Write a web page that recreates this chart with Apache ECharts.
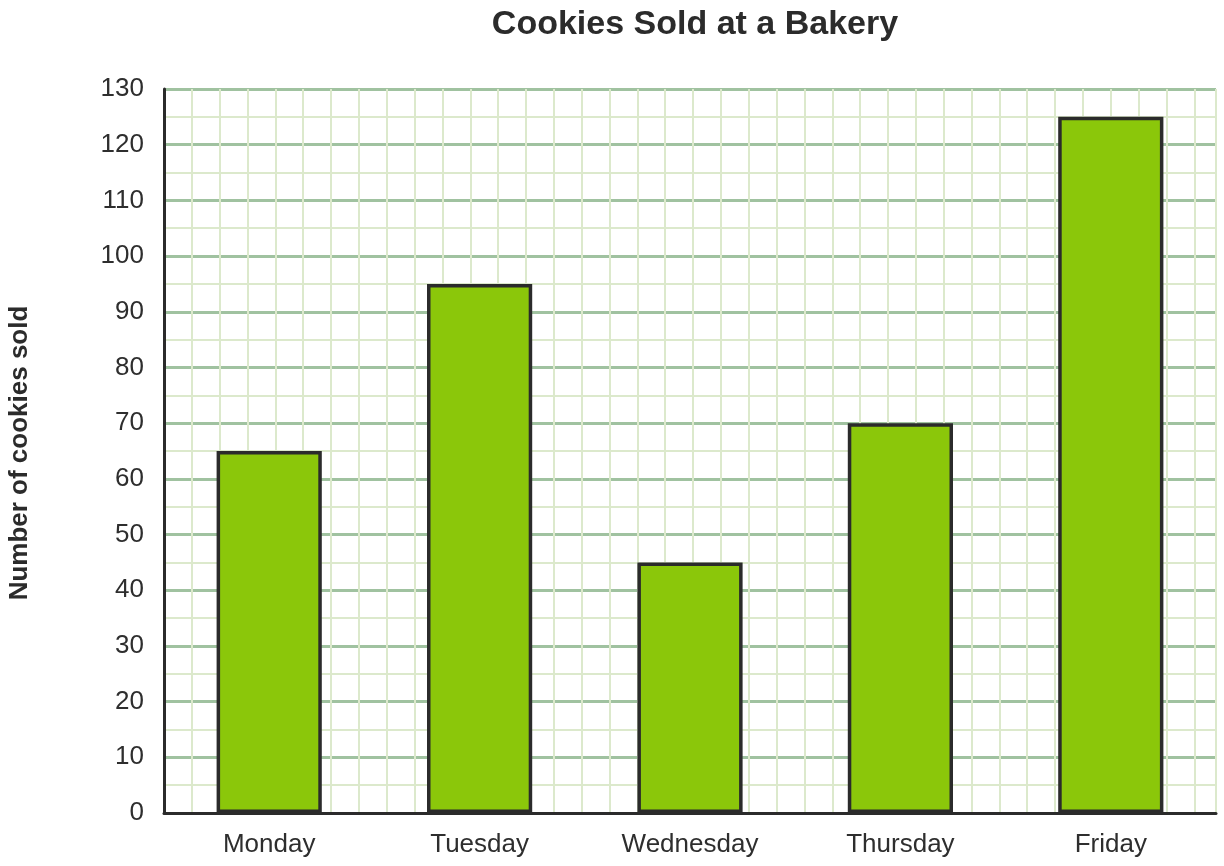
<!DOCTYPE html>
<html>
<head>
<meta charset="utf-8">
<script src="https://cdn.jsdelivr.net/npm/echarts@6/dist/echarts.min.js"></script>
<style>
  html, body { margin: 0; padding: 0; background: #ffffff; }
  #chart { width: 1224px; height: 866px; }
</style>
</head>
<body>
<div id="chart"></div>
<script>
// Cookies sold per weekday
const days = ['Monday', 'Tuesday', 'Wednesday', 'Thursday', 'Friday'];
const cookiesSold = [65, 95, 45, 70, 125];
const yTicks = [0, 10, 20, 30, 40, 50, 60, 70, 80, 90, 100, 110, 120, 130];

const chart = echarts.init(document.getElementById('chart'));

const gridLeft = 164, gridRight = 8, gridTop = 89, gridBottom = 53;
const plotW = 1224 - gridLeft - gridRight;
const plotH = 866 - gridTop - gridBottom;
const yMax = yTicks[yTicks.length - 1];
// square graph-paper cells: one cell is 5 units tall
const cellPx = plotH / yMax * 5;
const colCount = plotW / cellPx;

const font = 'Liberation Sans, Arial, sans-serif';

chart.setOption({
  animation: false,
  title: {
    text: 'Cookies Sold at a Bakery',
    left: gridLeft + plotW / 2,
    textAlign: 'center',
    top: 3,
    textStyle: { fontFamily: font, fontSize: 34, fontWeight: 'bold', color: '#2b2b2b' }
  },
  grid: { left: gridLeft, right: gridRight, top: gridTop, bottom: gridBottom, containLabel: false },
  graphic: [{
    type: 'text',
    x: 20, y: gridTop + plotH / 2 + 2,
    rotation: Math.PI / 2,
    style: {
      text: 'Number of cookies sold',
      font: 'bold 26px ' + font,
      fill: '#2b2b2b',
      align: 'center',
      verticalAlign: 'middle'
    }
  }],
  xAxis: [{
    type: 'category',
    data: days,
    axisLine: { show: true, lineStyle: { color: '#2b2b2b', width: 3 } },
    axisTick: { show: false },
    axisLabel: { fontFamily: font, fontSize: 26, color: '#2e2e2e', margin: 19 },
    splitLine: { show: false }
  }, {
    // vertical graph-paper lines
    type: 'value',
    position: 'top',
    min: 0,
    max: colCount,
    interval: 1,
    axisLine: { show: false },
    axisTick: { show: false },
    axisLabel: { show: false },
    splitLine: { show: true, lineStyle: { color: '#dce9cc', width: 2 } }
  }],
  yAxis: {
    type: 'value',
    min: 0,
    max: yMax,
    interval: 10,
    axisLine: { show: true, lineStyle: { color: '#2b2b2b', width: 3 } },
    axisTick: { show: false },
    axisLabel: { fontFamily: font, fontSize: 26, color: '#2e2e2e', margin: 20, padding: [3, 0, 0, 0] },
    splitLine: { show: true, lineStyle: { color: '#a0c2a0', width: 3 } },
    minorTick: { show: false, splitNumber: 2 },
    minorSplitLine: { show: true, lineStyle: { color: '#dce9cc', width: 2 } }
  },
  series: [{
    type: 'bar',
    data: cookiesSold,
    xAxisIndex: 0,
    barWidth: '50%',
    itemStyle: { color: '#8bc70a', borderColor: '#2b2b2b', borderWidth: 3.5 },
    z: 3
  }]
});
</script>
</body>
</html>
